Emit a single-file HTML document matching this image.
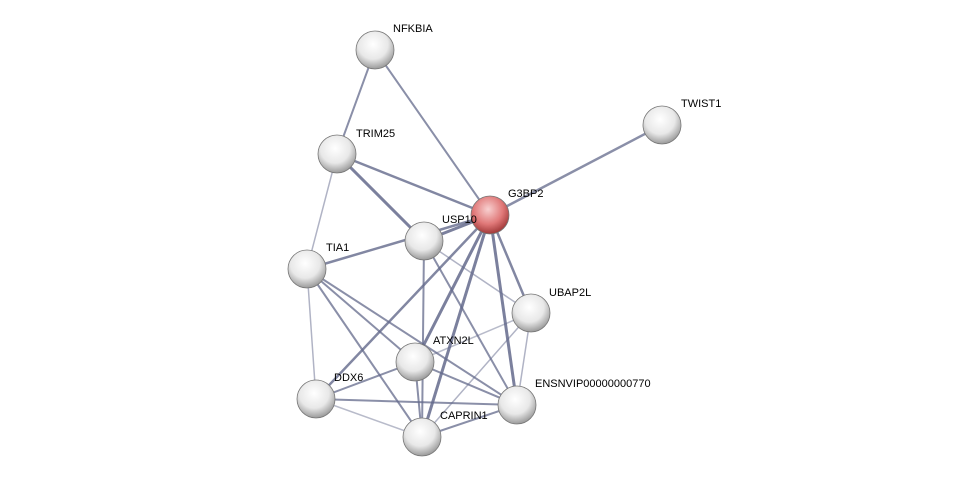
<!DOCTYPE html>
<html><head><meta charset="utf-8"><style>body{margin:0;background:#fff}</style></head><body>
<svg width="975" height="482" xmlns="http://www.w3.org/2000/svg" font-family="Liberation Sans, sans-serif" font-size="11">
<defs>
<radialGradient id="g" cx="45%" cy="35%" r="65%"><stop offset="0" stop-color="#ffffff"/><stop offset="0.6" stop-color="#e8e8e8"/><stop offset="1" stop-color="#9a9a9a"/></radialGradient>
<radialGradient id="r" cx="45%" cy="35%" r="65%"><stop offset="0" stop-color="#f8d0d0"/><stop offset="0.6" stop-color="#e07878"/><stop offset="1" stop-color="#a03838"/></radialGradient>
</defs>
<g stroke="#646a8c" stroke-linecap="round">
<line x1="375" y1="50" x2="337" y2="154" stroke-width="2" opacity="0.75"/>
<line x1="375" y1="50" x2="490" y2="215" stroke-width="2" opacity="0.75"/>
<line x1="662" y1="125" x2="490" y2="215" stroke-width="2.5" opacity="0.75"/>
<line x1="337" y1="154" x2="490" y2="215" stroke-width="2.5" opacity="0.8"/>
<line x1="337" y1="154" x2="424" y2="241" stroke-width="3" opacity="0.85"/>
<line x1="337" y1="154" x2="307" y2="269" stroke-width="1.5" opacity="0.5"/>
<line x1="490" y1="215" x2="424" y2="241" stroke-width="3" opacity="0.85"/>
<line x1="490" y1="215" x2="307" y2="269" stroke-width="2.5" opacity="0.8"/>
<line x1="490" y1="215" x2="415" y2="362" stroke-width="3" opacity="0.85"/>
<line x1="490" y1="215" x2="316" y2="399" stroke-width="2.5" opacity="0.8"/>
<line x1="490" y1="215" x2="422" y2="437" stroke-width="3" opacity="0.85"/>
<line x1="490" y1="215" x2="517" y2="405" stroke-width="3" opacity="0.85"/>
<line x1="490" y1="215" x2="531" y2="313" stroke-width="2.5" opacity="0.8"/>
<line x1="424" y1="241" x2="422" y2="437" stroke-width="2" opacity="0.75"/>
<line x1="424" y1="241" x2="531" y2="313" stroke-width="1.5" opacity="0.5"/>
<line x1="424" y1="241" x2="517" y2="405" stroke-width="2" opacity="0.75"/>
<line x1="307" y1="269" x2="316" y2="399" stroke-width="1.5" opacity="0.5"/>
<line x1="307" y1="269" x2="415" y2="362" stroke-width="2" opacity="0.75"/>
<line x1="307" y1="269" x2="422" y2="437" stroke-width="2" opacity="0.75"/>
<line x1="307" y1="269" x2="517" y2="405" stroke-width="2" opacity="0.75"/>
<line x1="316" y1="399" x2="415" y2="362" stroke-width="2" opacity="0.75"/>
<line x1="316" y1="399" x2="517" y2="405" stroke-width="2" opacity="0.75"/>
<line x1="316" y1="399" x2="422" y2="437" stroke-width="1.5" opacity="0.45"/>
<line x1="415" y1="362" x2="517" y2="405" stroke-width="2" opacity="0.75"/>
<line x1="415" y1="362" x2="531" y2="313" stroke-width="1.5" opacity="0.45"/>
<line x1="422" y1="437" x2="517" y2="405" stroke-width="2" opacity="0.75"/>
<line x1="422" y1="437" x2="531" y2="313" stroke-width="1.5" opacity="0.5"/>
<line x1="531" y1="313" x2="517" y2="405" stroke-width="1.5" opacity="0.5"/>
<line x1="415" y1="362" x2="422" y2="437" stroke-width="2" opacity="0.75"/>
</g>
<g stroke="#777" stroke-width="0.8">
<circle cx="375" cy="50" r="19" fill="url(#g)"/>
<circle cx="662" cy="125" r="19" fill="url(#g)"/>
<circle cx="337" cy="154" r="19" fill="url(#g)"/>
<circle cx="424" cy="241" r="19" fill="url(#g)"/>
<circle cx="490" cy="215" r="19" fill="url(#r)"/>
<circle cx="307" cy="269" r="19" fill="url(#g)"/>
<circle cx="531" cy="313" r="19" fill="url(#g)"/>
<circle cx="415" cy="362" r="19" fill="url(#g)"/>
<circle cx="316" cy="399" r="19" fill="url(#g)"/>
<circle cx="517" cy="405" r="19" fill="url(#g)"/>
<circle cx="422" cy="437" r="19" fill="url(#g)"/>
</g>
<g fill="#000">
<text x="393" y="32">NFKBIA</text>
<text x="681" y="107">TWIST1</text>
<text x="356" y="137">TRIM25</text>
<text x="508" y="197">G3BP2</text>
<text x="442" y="223">USP10</text>
<text x="326" y="251">TIA1</text>
<text x="549" y="296">UBAP2L</text>
<text x="433" y="344">ATXN2L</text>
<text x="334" y="381">DDX6</text>
<text x="535" y="387">ENSNVIP00000000770</text>
<text x="440" y="419">CAPRIN1</text>
</g>
</svg>
</body></html>
